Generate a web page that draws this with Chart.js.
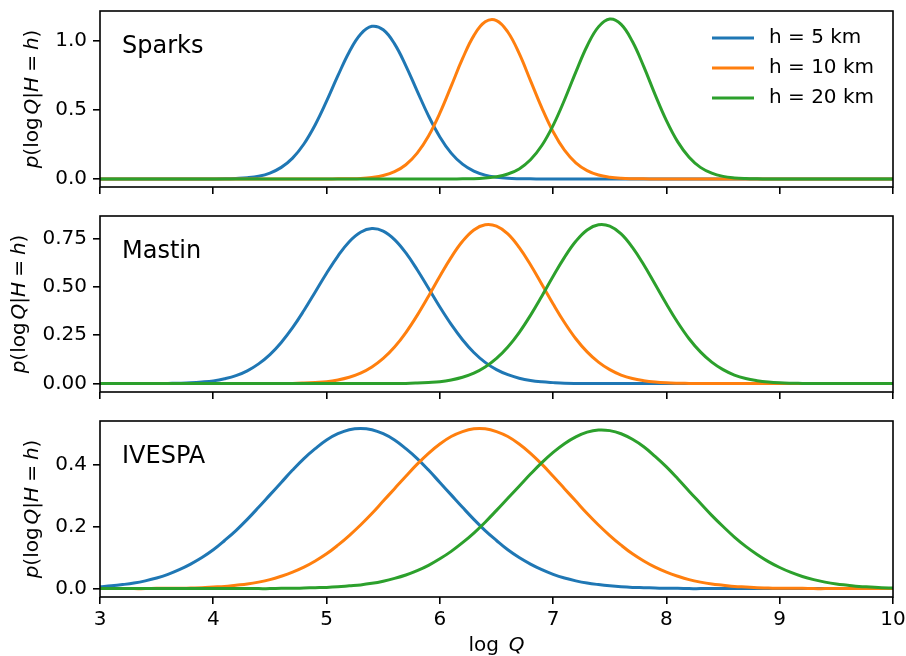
<!DOCTYPE html>
<html>
<head>
<meta charset="utf-8">
<script src="https://cdn.jsdelivr.net/npm/chart.js@4.4.1/dist/chart.umd.min.js"></script>
<style>
  html, body { margin: 0; padding: 0; background: #fff; }
  body { width: 906px; height: 656px; position: relative; overflow: hidden; }
  canvas { position: absolute; left: 0; }
</style>
</head>
<body>
<canvas id="sparksChart"></canvas>
<canvas id="mastinChart"></canvas>
<canvas id="ivespaChart"></canvas>
<script>
// x grid (log Q)
const logQ = [
  3.0, 3.1, 3.2, 3.3, 3.4, 3.5, 3.6, 3.7, 3.8, 3.9,
  4.0, 4.1, 4.2, 4.3, 4.4, 4.5, 4.6, 4.7, 4.8, 4.9,
  5.0, 5.1, 5.2, 5.3, 5.4, 5.5, 5.6, 5.7, 5.8, 5.9,
  6.0, 6.1, 6.2, 6.3, 6.4, 6.5, 6.6, 6.7, 6.8, 6.9,
  7.0, 7.1, 7.2, 7.3, 7.4, 7.5, 7.6, 7.7, 7.8, 7.9,
  8.0, 8.1, 8.2, 8.3, 8.4, 8.5, 8.6, 8.7, 8.8, 8.9,
  9.0, 9.1, 9.2, 9.3, 9.4, 9.5, 9.6, 9.7, 9.8, 9.9,
  10.0
];

const seriesLabels = ["h = 5 km", "h = 10 km", "h = 20 km"];
const panelNames = ["Sparks", "Mastin", "IVESPA"];

// Sparks
const sparks5 = [
  0, 0, 0, 0, 0, 0, 0, 0, 0, 0,
  0, 0.001, 0.004, 0.009, 0.020, 0.043, 0.084, 0.151, 0.253, 0.392,
  0.562, 0.746, 0.918, 1.046, 1.103, 1.078, 0.976, 0.818, 0.635, 0.456,
  0.304, 0.187, 0.107, 0.057, 0.028, 0.013, 0.005, 0.002, 0.001, 0,
  0, 0, 0, 0, 0, 0, 0, 0, 0, 0,
  0, 0, 0, 0, 0, 0, 0, 0, 0, 0,
  0, 0, 0, 0, 0, 0, 0, 0, 0, 0,
  0
];
const sparks10 = [
  0, 0, 0, 0, 0, 0, 0, 0, 0, 0,
  0, 0, 0, 0, 0, 0, 0, 0, 0, 0,
  0, 0.001, 0.002, 0.004, 0.011, 0.025, 0.053, 0.103, 0.187, 0.311,
  0.476, 0.671, 0.869, 1.036, 1.136, 1.145, 1.062, 0.907, 0.711, 0.514,
  0.341, 0.208, 0.117, 0.061, 0.029, 0.013, 0.005, 0.002, 0.001, 0,
  0, 0, 0, 0, 0, 0, 0, 0, 0, 0,
  0, 0, 0, 0, 0, 0, 0, 0, 0, 0,
  0
];
const sparks20 = [
  0, 0, 0, 0, 0, 0, 0, 0, 0, 0,
  0, 0, 0, 0, 0, 0, 0, 0, 0, 0,
  0, 0, 0, 0, 0, 0, 0, 0, 0, 0,
  0, 0, 0.001, 0.002, 0.007, 0.016, 0.036, 0.073, 0.139, 0.242,
  0.388, 0.571, 0.772, 0.961, 1.099, 1.156, 1.117, 0.993, 0.812, 0.610,
  0.422, 0.268, 0.157, 0.084, 0.042, 0.019, 0.008, 0.003, 0.001, 0,
  0, 0, 0, 0, 0, 0, 0, 0, 0, 0,
  0
];

// Mastin
const mastin5 = [
  0, 0, 0, 0, 0, 0, 0.001, 0.002, 0.004, 0.008,
  0.014, 0.025, 0.041, 0.066, 0.102, 0.150, 0.213, 0.289, 0.378, 0.474,
  0.571, 0.660, 0.734, 0.783, 0.802, 0.789, 0.745, 0.676, 0.589, 0.493,
  0.396, 0.306, 0.227, 0.161, 0.110, 0.072, 0.046, 0.028, 0.016, 0.009,
  0.005, 0.002, 0.001, 0.001, 0, 0, 0, 0, 0, 0,
  0, 0, 0, 0, 0, 0, 0, 0, 0, 0,
  0, 0, 0, 0, 0, 0, 0, 0, 0, 0,
  0
];
const mastin10 = [
  0, 0, 0, 0, 0, 0, 0, 0, 0, 0,
  0, 0, 0, 0, 0, 0, 0.001, 0.001, 0.003, 0.006,
  0.010, 0.019, 0.033, 0.054, 0.086, 0.130, 0.189, 0.264, 0.353, 0.452,
  0.555, 0.653, 0.736, 0.795, 0.822, 0.815, 0.775, 0.705, 0.615, 0.514,
  0.412, 0.316, 0.232, 0.164, 0.111, 0.072, 0.044, 0.026, 0.015, 0.008,
  0.004, 0.002, 0.001, 0, 0, 0, 0, 0, 0, 0,
  0, 0, 0, 0, 0, 0, 0, 0, 0, 0,
  0
];
const mastin20 = [
  0, 0, 0, 0, 0, 0, 0, 0, 0, 0,
  0, 0, 0, 0, 0, 0, 0, 0, 0, 0,
  0, 0, 0, 0, 0, 0, 0.001, 0.001, 0.003, 0.006,
  0.010, 0.019, 0.033, 0.054, 0.086, 0.130, 0.189, 0.264, 0.353, 0.452,
  0.555, 0.653, 0.736, 0.795, 0.822, 0.815, 0.775, 0.705, 0.615, 0.514,
  0.412, 0.316, 0.232, 0.164, 0.111, 0.072, 0.044, 0.026, 0.015, 0.008,
  0.004, 0.002, 0.001, 0, 0, 0, 0, 0, 0, 0,
  0
];

// IVESPA
const ivespa5 = [
  0.006, 0.009, 0.013, 0.018, 0.025, 0.034, 0.046, 0.061, 0.079, 0.100,
  0.125, 0.155, 0.187, 0.223, 0.262, 0.302, 0.342, 0.382, 0.419, 0.451,
  0.479, 0.499, 0.512, 0.516, 0.512, 0.499, 0.479, 0.451, 0.419, 0.382,
  0.342, 0.302, 0.262, 0.223, 0.187, 0.155, 0.125, 0.100, 0.079, 0.061,
  0.046, 0.034, 0.025, 0.018, 0.013, 0.009, 0.006, 0.004, 0.003, 0.002,
  0.001, 0.001, 0, 0, 0, 0, 0, 0, 0, 0,
  0, 0, 0, 0, 0, 0, 0, 0, 0, 0,
  0
];
const ivespa10 = [
  0, 0, 0, 0, 0, 0.001, 0.001, 0.001, 0.002, 0.003,
  0.005, 0.007, 0.011, 0.015, 0.021, 0.029, 0.040, 0.053, 0.069, 0.089,
  0.112, 0.140, 0.171, 0.205, 0.242, 0.282, 0.322, 0.362, 0.401, 0.436,
  0.466, 0.490, 0.506, 0.515, 0.515, 0.506, 0.490, 0.466, 0.436, 0.401,
  0.362, 0.322, 0.282, 0.242, 0.205, 0.171, 0.140, 0.112, 0.089, 0.069,
  0.053, 0.040, 0.029, 0.021, 0.015, 0.011, 0.007, 0.005, 0.003, 0.002,
  0.001, 0.001, 0.001, 0, 0, 0, 0, 0, 0, 0,
  0
];
const ivespa20 = [
  0, 0, 0, 0, 0, 0, 0, 0, 0, 0,
  0, 0, 0, 0, 0, 0, 0.001, 0.001, 0.002, 0.003,
  0.004, 0.006, 0.009, 0.012, 0.017, 0.024, 0.033, 0.044, 0.058, 0.075,
  0.096, 0.120, 0.148, 0.179, 0.214, 0.252, 0.291, 0.330, 0.369, 0.406,
  0.439, 0.467, 0.489, 0.504, 0.511, 0.509, 0.499, 0.481, 0.457, 0.426,
  0.392, 0.354, 0.314, 0.275, 0.236, 0.200, 0.166, 0.136, 0.110, 0.087,
  0.068, 0.052, 0.039, 0.029, 0.021, 0.015, 0.011, 0.007, 0.005, 0.003,
  0.002
];

// tick labels
const xTicks = [3, 4, 5, 6, 7, 8, 9, 10];
const sparksTicks = [0, 0.5, 1.0];
const mastinTicks = [0, 0.25, 0.5, 0.75];
const ivespaTicks = [0, 0.2, 0.4];

const COLOURS = ["#1f77b4", "#ff7f0e", "#2ca02c"];
const FONT = '"DejaVu Sans", sans-serif';
const PAD_TOP = 40;

// rich text pieces for the math labels
const yLabelParts = [
  { t: "p", it: true }, { t: "(log" }, { gap: 3 }, { t: "Q", it: true }, { t: "|" },
  { t: "H", it: true }, { gap: 5 }, { t: "=" }, { gap: 5 }, { t: "h", it: true }, { t: ")" }
];
const xLabelParts = [{ t: "log" }, { gap: 10 }, { t: "Q", it: true }];

function setFont(ctx, part, size) {
  ctx.font = (part.it ? "italic " : "") + size + "px " + FONT;
}

function richWidth(ctx, parts, size) {
  let w = 0;
  parts.forEach(p => {
    if (p.gap) { w += p.gap; return; }
    setFont(ctx, p, size);
    w += ctx.measureText(p.t).width;
  });
  return w;
}

function drawRich(ctx, parts, size, x, y) {
  ctx.textAlign = "left";
  ctx.textBaseline = "alphabetic";
  parts.forEach(p => {
    if (p.gap) { x += p.gap; return; }
    setFont(ctx, p, size);
    ctx.fillText(p.t, x, y);
    x += ctx.measureText(p.t).width;
  });
}

// frame, panel name, axis labels and legend
const panelDecor = {
  id: "panelDecor",
  afterDatasetsDraw(chart, args, opts) {
    const ctx = chart.ctx;
    const a = chart.chartArea;
    ctx.save();
    ctx.strokeStyle = "#000";
    ctx.lineWidth = 1.6;
    ctx.strokeRect(a.left, a.top, a.right - a.left, a.bottom - a.top);

    ctx.fillStyle = "#000";
    ctx.font = "24px " + FONT;
    ctx.textAlign = "left";
    ctx.textBaseline = "alphabetic";
    ctx.fillText(opts.name, a.left + 22, a.top + 41.5);

    ctx.save();
    ctx.translate(opts.labelX, (a.top + a.bottom) / 2);
    ctx.rotate(-Math.PI / 2);
    const yw = richWidth(ctx, yLabelParts, 20);
    drawRich(ctx, yLabelParts, 20, -yw / 2, 0);
    ctx.restore();

    if (opts.legend) {
      chart.data.datasets.forEach((ds, i) => {
        const y = a.top + 27 + 30 * i;
        ctx.strokeStyle = ds.borderColor;
        ctx.lineWidth = 3;
        ctx.beginPath();
        ctx.moveTo(a.right - 181, y);
        ctx.lineTo(a.right - 139, y);
        ctx.stroke();
        ctx.fillStyle = "#000";
        ctx.font = "20px " + FONT;
        ctx.textBaseline = "middle";
        ctx.fillText(ds.label, a.right - 124, y);
      });
    }

    if (opts.xLabel) {
      ctx.fillStyle = "#000";
      const xw = richWidth(ctx, xLabelParts, 20);
      drawRich(ctx, xLabelParts, 20, (a.left + a.right) / 2 - xw / 2, a.bottom + 54);
    }
    ctx.restore();
  }
};

function makePanel(id, cfg) {
  const canvas = document.getElementById(id);
  canvas.width = 906;
  canvas.height = PAD_TOP + 176 + cfg.xAxisHeight;
  canvas.style.top = (cfg.plotTop - PAD_TOP) + "px";

  return new Chart(canvas.getContext("2d"), {
    type: "line",
    data: {
      datasets: cfg.series.map((ys, i) => ({
        label: seriesLabels[i],
        data: logQ.map((x, k) => ({ x: x, y: ys[k] })),
        borderColor: COLOURS[i],
        backgroundColor: COLOURS[i],
        borderWidth: 3,
        pointRadius: 0,
        fill: false,
        tension: 0.4,
        order: 2 - i
      }))
    },
    options: {
      responsive: false,
      animation: false,
      devicePixelRatio: 1,
      layout: { padding: { top: PAD_TOP, right: 13, bottom: 0, left: 0 } },
      plugins: {
        legend: { display: false },
        tooltip: { enabled: false },
        panelDecor: { name: cfg.name, labelX: cfg.labelX, legend: cfg.legend, xLabel: cfg.showX }
      },
      scales: {
        x: {
          type: "linear",
          min: 3,
          max: 10,
          afterBuildTicks: s => { s.ticks = xTicks.map(v => ({ value: v })); },
          afterFit: s => { s.height = cfg.xAxisHeight; s.paddingLeft = 0; s.paddingRight = 0; },
          border: { display: false },
          grid: { drawOnChartArea: false, drawTicks: true, tickLength: 7, tickColor: "#000", tickWidth: 1.6, lineWidth: 1.6 },
          ticks: {
            display: cfg.showX,
            color: "#000",
            padding: 4,
            maxRotation: 0,
            font: { family: FONT, size: 20 },
            callback: v => String(v)
          }
        },
        y: {
          min: cfg.yMin,
          max: cfg.yMax,
          afterBuildTicks: s => { s.ticks = cfg.ticks.map(v => ({ value: v })); },
          afterFit: s => { s.width = 100; s.paddingTop = 0; s.paddingBottom = 0; },
          border: { display: false },
          grid: { drawOnChartArea: false, drawTicks: true, tickLength: 7, tickColor: "#000", tickWidth: 1.6, lineWidth: 1.6 },
          ticks: {
            color: "#000",
            padding: 6,
            font: { family: FONT, size: 20 },
            callback: v => Number(v).toFixed(cfg.decimals)
          }
        }
      }
    },
    plugins: [panelDecor]
  });
}

makePanel("sparksChart", {
  name: panelNames[0], series: [sparks5, sparks10, sparks20], ticks: sparksTicks, decimals: 1,
  yMin: -0.0578, yMax: 1.2138, plotTop: 11, xAxisHeight: 20, showX: false, legend: true, labelX: 38
});
makePanel("mastinChart", {
  name: panelNames[1], series: [mastin5, mastin10, mastin20], ticks: mastinTicks, decimals: 2,
  yMin: -0.0435, yMax: 0.867, plotTop: 216, xAxisHeight: 20, showX: false, legend: false, labelX: 25
});
makePanel("ivespaChart", {
  name: panelNames[2], series: [ivespa5, ivespa10, ivespa20], ticks: ivespaTicks, decimals: 1,
  yMin: -0.027, yMax: 0.540, plotTop: 421, xAxisHeight: 59, showX: true, legend: false, labelX: 38
});
</script>
</body>
</html>
